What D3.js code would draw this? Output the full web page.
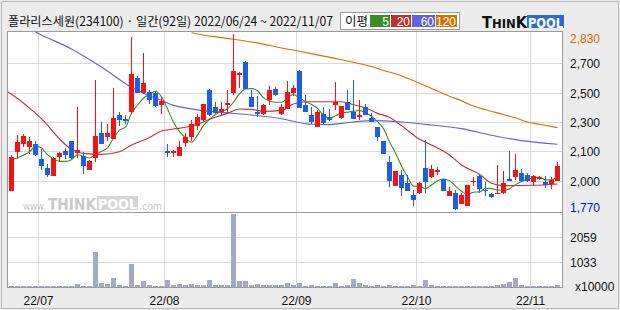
<!DOCTYPE html>
<html>
<head>
<meta charset="utf-8">
<script src="https://cdn.jsdelivr.net/npm/d3@7"></script>
<style>
  body { margin: 0; background: #ececec; }
  svg { display: block; font-family: "Liberation Sans", Arial, sans-serif; }
</style>
</head>
<body>
<svg id="chart"></svg>
<script>
// 폴라리스세원 일봉 (2022/06/24 ~ 2022/11/07, 92 거래일)
const opens = [1885,2120,2170,2150,2165,2075,2025,1975,2090,2125,2185,2115,2095,2010,2085,2235,2210,2200,2345,2320,
  2360,2565,2475,2480,2475,2405,2125,2115,2095,2175,2210,2275,2310,2495,2390,2360,2400,2475,2585,2660,
  2450,2360,2350,2430,2500,2350,2380,2475,2605,2400,2340,2270,2350,2330,2400,2325,2420,2360,2330,2390,
  2325,2270,2185,2060,1915,1980,1930,1860,1870,2025,1970,2000,1955,1855,1870,1805,1795,1940,1975,1890,
  1865,1870,1870,1955,1970,1995,1980,1940,1955,1940,1925,1945];
const highs = [2100,2220,2230,2210,2185,2135,2050,2090,2120,2145,2185,2390,2120,2070,2555,2300,2285,2505,2360,2340,
  2810,2575,2715,2495,2485,2455,2170,2130,2185,2235,2310,2350,2410,2500,2420,2420,2495,2830,2600,2665,
  2495,2455,2410,2515,2510,2410,2545,2525,2615,2460,2390,2370,2390,2380,2540,2395,2490,2555,2435,2410,
  2355,2270,2185,2095,2005,2010,1980,1890,1940,2190,2040,2030,1955,1910,1890,1870,1920,1970,1985,1940,
  1870,2040,2005,2125,2110,2015,1990,1980,1975,1975,1970,2060];
const lows = [1885,2080,2150,2110,2095,2010,1970,1975,2065,2075,2080,2085,1985,2010,2060,2170,2185,2200,2275,2285,
  2350,2475,2475,2410,2390,2350,2090,2090,2095,2150,2185,2250,2300,2335,2350,2340,2355,2460,2505,2500,
  2390,2330,2345,2400,2455,2340,2380,2455,2385,2360,2290,2270,2290,2305,2370,2320,2370,2320,2310,2340,
  2300,2185,2110,1910,1915,1855,1885,1795,1865,1875,1960,1980,1885,1855,1770,1805,1795,1915,1875,1855,
  1845,1870,1865,1945,1950,1945,1940,1915,1950,1900,1895,1945];
const closes = [2090,2180,2215,2185,2100,2035,1980,2085,2115,2100,2085,2130,2035,2065,2215,2170,2235,2325,2310,2305,
  2590,2475,2535,2430,2395,2425,2115,2125,2150,2210,2290,2330,2410,2340,2355,2380,2415,2605,2595,2500,
  2390,2350,2400,2495,2460,2390,2480,2505,2385,2360,2300,2360,2295,2310,2420,2395,2375,2320,2340,2340,
  2300,2210,2110,1945,2005,1905,1885,1830,1935,1940,2015,2010,1885,1885,1775,1860,1920,1945,1895,1885,
  1850,1875,1935,1945,2010,1945,1945,1975,1970,1920,1950,2035];
// 거래량 (x10000)
const volumes = [40,40,40,40,40,40,40,40,40,40,40,125,40,40,1450,165,125,370,85,55,
  950,85,250,85,40,40,290,85,125,85,125,85,85,290,85,85,85,3010,250,250,
  85,125,85,85,85,85,165,85,165,55,85,40,40,40,165,40,85,330,165,85,
  40,85,40,85,40,40,40,85,40,290,85,40,40,40,40,40,40,40,40,40,
  40,85,125,205,370,85,40,40,40,40,40,85];

// 월 구분 (각 월 첫 거래일 인덱스)
const monthLabels = ["22/07", "22/08", "22/09", "22/10", "22/11"];
const monthStart = [5, 26, 48, 68, 87];

// 이동평균: 5일선 앞부분은 그림에서 읽은 값, 나머지는 종가로 계산
const ma5Start = [2075, 2085, 2100, 2120];
// 20/60/120일선은 차트 이전 데이터가 없어 그림에서 읽은 값
const ma20At = [-1,0,3,5,8,10,12,15,18,20,23,25,27,29,31,33,36,38,40,42,45,47,49,55,57,59,61,63,65,68,70,73,75,78,80,82,87,91];
const ma20 = [2490,2467,2384,2320,2198,2135,2111,2105,2121,2161,2207,2246,2258,2268,2286,2316,2352,2378,2376,2364,2370,2408,2422,2422,2404,2384,2352,2328,2278,2196,2161,2101,2041,1985,1931,1917,1919,1927];
const ma60At = [4,5,10,15,20,22,25,27,29,31,35,40,45,50,53,55,60,65,70,75,80,85,91];
const ma60 = [2842,2824,2740,2631,2509,2473,2430,2400,2385,2373,2358,2342,2320,2286,2284,2292,2308,2300,2282,2260,2220,2188,2166];
const ma120At = [30,31,35,40,45,50,55,60,62,64,66,68,70,73,75,77,79,82,84,86,88,91];
const ma120 = [2838,2830,2808,2782,2746,2712,2675,2634,2610,2590,2563,2533,2502,2455,2428,2396,2374,2345,2325,2300,2286,2266];

const maNames = ["5", "20", "60", "120"];
const maColors = ["#3a8f24", "#c4302c", "#6262dc", "#dc6e00"];
const priceTickLabels = ["2,700", "2,500", "2,300", "2,100", "2,000"];
const volTicks = [2059, 1033];

const title = "폴라리스세원(234100) · 일간(92일) 2022/06/24 ~ 2022/11/07";

// ---- 레이아웃
const W = 620, H = 310;
const plotL = 7.5, plotR = 562.5, plotT = 31.5, sepY = 212.5, plotB = 287.5;

const svg = d3.select("#chart").attr("width", W).attr("height", H);

svg.append("rect").attr("x", 1.5).attr("y", 1.5).attr("width", W - 3).attr("height", H - 3)
  .attr("fill", "#ececec").attr("stroke", "#b9b9b9");

svg.append("rect").attr("x", plotL).attr("y", plotT)
  .attr("width", plotR - plotL).attr("height", plotB - plotT)
  .attr("fill", "#fff");

const n = closes.length;
const x = d3.scaleLinear().domain([0, n - 1]).range([11.5, 557.5]);
const pMin = d3.min(lows), pMax = d3.max(highs);
const y = d3.scaleLinear().domain([pMin, pMax]).range([210, 34]);
const vMax = 3090;
const yv = d3.scaleLinear().domain([0, vMax]).range([287, 212]);
const step = x(1) - x(0);

const grid = svg.append("g").attr("stroke", "#d9d9d9").attr("stroke-width", 1).attr("shape-rendering", "crispEdges");
// 가격 그리드 (범위를 6등분)
const priceGrid = d3.range(1, 6).map(k => pMax - k * (pMax - pMin) / 6);
grid.selectAll(".hp").data(priceGrid).join("line")
  .attr("x1", plotL).attr("x2", plotR)
  .attr("y1", d => Math.round(y(d)) + 0.5).attr("y2", d => Math.round(y(d)) + 0.5);
grid.selectAll(".hv").data(volTicks).join("line")
  .attr("x1", plotL).attr("x2", plotR)
  .attr("y1", d => Math.round(yv(d)) + 0.5).attr("y2", d => Math.round(yv(d)) + 0.5);
grid.selectAll(".vx").data(monthStart).join("line")
  .attr("x1", d => x(d) - step / 2).attr("x2", d => x(d) - step / 2)
  .attr("y1", plotT).attr("y2", plotB);

// 워터마크
const wm = svg.append("g").attr("fill", "#c9c9c9").attr("font-family", "DejaVu Sans, sans-serif");
wm.append("text").attr("x", 23).attr("y", 210).attr("font-size", 10)
  .attr("textLength", 23).attr("lengthAdjust", "spacingAndGlyphs").text("www.");
wm.append("text").attr("x", 48).attr("y", 210).attr("font-size", 15).attr("font-weight", "bold")
  .attr("textLength", 48).attr("lengthAdjust", "spacingAndGlyphs").text("THINK");
wm.append("rect").attr("x", 97).attr("y", 196).attr("width", 41).attr("height", 14).attr("fill", "#d6d6d6");
wm.append("text").attr("x", 98).attr("y", 209).attr("font-size", 14).attr("font-weight", "bold").attr("fill", "#fff")
  .attr("textLength", 39).attr("lengthAdjust", "spacingAndGlyphs").text("POOL");
wm.append("text").attr("x", 139).attr("y", 210).attr("font-size", 10)
  .attr("textLength", 23).attr("lengthAdjust", "spacingAndGlyphs").text(".com");

// 거래량
svg.append("g").attr("fill", "#a2abc3").attr("shape-rendering", "crispEdges")
  .selectAll("rect").data(volumes).join("rect")
  .attr("x", (d, i) => x(i) - 2.5).attr("width", 5)
  .attr("y", d => Math.min(yv(d), 286)).attr("height", d => Math.max(287 - yv(d), 1));

// 이동평균
svg.append("clipPath").attr("id", "pclip").append("rect")
  .attr("x", plotL).attr("y", plotT + 0.5).attr("width", plotR - plotL).attr("height", sepY - plotT - 0.5);

const ma5 = closes.map((c, i) => i < 4 ? ma5Start[i] : d3.mean(closes.slice(i - 4, i + 1)));
const maSeries = [
  ma5.map((v, i) => [i, v]),
  ma20At.map((d, k) => [d, ma20[k]]),
  ma60At.map((d, k) => [d, ma60[k]]),
  ma120At.map((d, k) => [d, ma120[k]])
];
const line = d3.line().x(d => x(d[0])).y(d => y(d[1])).curve(d3.curveMonotoneX);
svg.append("g").attr("clip-path", "url(#pclip)")
  .selectAll("path").data(maSeries).join("path")
  .attr("d", line).attr("fill", "none")
  .attr("stroke", (d, i) => maColors[i]).attr("stroke-width", 1.1);

// 캔들
const candles = svg.append("g").attr("shape-rendering", "crispEdges")
  .selectAll("g").data(closes).join("g")
  .attr("fill", (c, i) => c >= opens[i] ? "#f01414" : "#1f5fdf")
  .attr("stroke", (c, i) => c >= opens[i] ? "#f01414" : "#1f5fdf");
candles.append("line")
  .attr("x1", (c, i) => Math.floor(x(i)) + 0.5).attr("x2", (c, i) => Math.floor(x(i)) + 0.5)
  .attr("y1", (c, i) => y(highs[i])).attr("y2", (c, i) => y(lows[i]));
candles.append("rect").attr("stroke", "none")
  .attr("x", (c, i) => x(i) - 2.5).attr("width", 5)
  .attr("y", (c, i) => y(Math.max(c, opens[i])))
  .attr("height", (c, i) => Math.max(y(Math.min(c, opens[i])) - y(Math.max(c, opens[i])), 1));

// 테두리
const frame = svg.append("g").attr("stroke", "#9a9a9a").attr("fill", "none").attr("shape-rendering", "crispEdges");
frame.append("rect").attr("x", plotL).attr("y", plotT).attr("width", plotR - plotL).attr("height", plotB - plotT);
frame.append("line").attr("x1", plotL).attr("x2", plotR).attr("y1", sepY).attr("y2", sepY);

// 오른쪽 축 라벨
const axisFont = 12;
const rlab = svg.append("g").attr("font-size", axisFont);
rlab.selectAll(".pl").data(priceGrid).join("text")
  .attr("x", 570).attr("y", d => y(d) + 5).attr("fill", "#111")
  .text((d, i) => priceTickLabels[i]);
rlab.append("text").attr("x", 570).attr("y", Math.max(y(pMax), 38) + 5).attr("fill", "#dc6e00").text(d3.format(",")(pMax));
rlab.append("text").attr("x", 570).attr("y", Math.min(y(pMin), 208) + 4).attr("fill", "#1010c8").text(d3.format(",")(pMin));
rlab.selectAll(".vl").data(volTicks).join("text")
  .attr("x", 570).attr("y", d => yv(d) + 5).attr("fill", "#111").text(d => d);
rlab.append("text").attr("x", 575).attr("y", 291).attr("fill", "#111").text("x10000");

// 월 라벨
svg.append("g").attr("font-size", axisFont).attr("text-anchor", "middle").attr("fill", "#111")
  .selectAll("text").data(monthStart).join("text")
  .attr("x", d => x(d) - step / 2).attr("y", 305)
  .text((d, i) => monthLabels[i]);

// 제목
svg.append("text").attr("x", 8).attr("y", 26)
  .attr("font-family", "'Noto Sans CJK KR', sans-serif").attr("font-size", 12.5).attr("fill", "#111")
  .attr("textLength", 325).attr("lengthAdjust", "spacingAndGlyphs")
  .text(title);

// 이평 범례
const lg = svg.append("g");
lg.append("rect").attr("x", 340.5).attr("y", 12.5).attr("width", 119).attr("height", 17)
  .attr("fill", "#fff").attr("stroke", "#9a9a9a");
lg.append("text").attr("x", 345).attr("y", 26).attr("font-family", "'Noto Sans CJK KR', sans-serif")
  .attr("font-size", 12.5).attr("fill", "#111").text("이평");
const boxX = [370, 391, 412, 436], boxW = [20, 20, 23, 21];
maNames.forEach((name, i) => {
  lg.append("rect").attr("x", boxX[i]).attr("y", 15).attr("width", boxW[i]).attr("height", 12).attr("fill", maColors[i]);
  lg.append("text").attr("x", boxX[i] + boxW[i] - 1).attr("y", 25.5).attr("text-anchor", "end")
    .attr("font-size", 12).attr("fill", "#fff").text(name);
});

// 로고
const logo = svg.append("g").attr("font-family", "DejaVu Sans, sans-serif").attr("font-weight", "bold");
logo.append("text").attr("x", 482).attr("y", 28).attr("fill", "#111").attr("textLength", 45).attr("lengthAdjust", "spacingAndGlyphs")
  .call(t => {
    t.append("tspan").attr("font-size", 15).text("T");
    t.append("tspan").attr("font-size", 12).text("HIN");
    t.append("tspan").attr("font-size", 15).text("K");
  });
logo.append("rect").attr("x", 527).attr("y", 15).attr("width", 37).attr("height", 13).attr("fill", "#2b6bd8");
logo.append("text").attr("x", 528).attr("y", 27.5).attr("fill", "#fff").attr("font-size", 14)
  .attr("textLength", 35).attr("lengthAdjust", "spacingAndGlyphs").text("POOL");
</script>
</body>
</html>
